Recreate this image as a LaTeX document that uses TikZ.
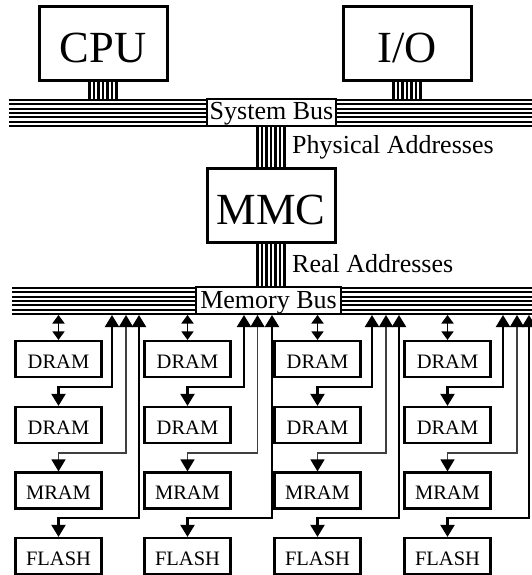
\documentclass[tikz,border=0pt]{standalone}
\usepackage{fontspec}
\setmainfont{Liberation Serif}
\usetikzlibrary{arrows.meta}
\begin{document}
\begin{tikzpicture}[x=1pt,y=-1pt,
 bigbox/.style={draw, line width=3pt, minimum width=128pt, minimum height=74pt, inner sep=0pt, font=\fontsize{44.5}{50}\selectfont, text height=38pt, text depth=0pt},
 membox/.style={draw, line width=2.2pt, minimum width=86pt, minimum height=36pt, inner sep=0pt, font=\fontsize{20.5}{24}\selectfont, text height=18pt, text depth=0pt},
 buslabel/.style={draw, fill=white, line width=1.6pt, minimum height=27pt, inner sep=0pt, font=\fontsize{26}{30}\selectfont, text height=15pt, text depth=0pt},
 busline/.style={line width=2.2pt},
 stub/.style={line width=2.4pt},
 tip/.style={Triangle[width=14pt,length=12pt,color=black]},
 wire/.style={line width=2.1pt, {Triangle[width=14pt,length=12pt,color=black]}-{Triangle[width=14pt,length=12pt,color=black]}},
 thinwire/.style={wire, line width=1.4pt, draw=black!75},
 dblarrow/.style={line width=1.8pt, {Triangle[width=12pt,length=8.5pt]}-{Triangle[width=12pt,length=8.5pt]}},
 addr/.style={font=\fontsize{26}{30}\selectfont, inner sep=0pt, anchor=base west}
]
\useasboundingbox (0,0) rectangle (532,575);
% buses
\foreach \k in {0,...,6} {
  \draw[busline] (9,{100+4.33*\k}) -- (532,{100+4.33*\k});
  \draw[busline] (12,{288+4.33*\k}) -- (532,{288+4.33*\k});
}
\coordinate (membottom) at (0,315);
% top boxes
\node[bigbox] (cpu) at (103,44) {CPU};
\node[bigbox] (io) at (407,44) {I/O};
\node[bigbox] (mmc) at (271,205.5) {MMC};
% stubs
\foreach \d in {-13.5,-9,-4.5,0,4.5,9,13.5} {
  \draw[stub] ([xshift=\d pt]cpu.south) -- ++(0,19);
  \draw[stub] ([xshift=\d pt]io.south) -- ++(0,19);
  \draw[stub] ([xshift=\d pt]mmc.north) -- ++(0,-43);
  \draw[stub] ([xshift=\d pt]mmc.south) -- ++(0,46);
}
% bus labels
\node[buslabel, minimum width=129pt] (sysbus) at (271.5,112.5) {System Bus};
\node[buslabel, minimum width=145pt] (membus) at (268.5,300.5) {Memory Bus};
\node[addr] (pa) at (292,153) {Physical Addresses};
\node[addr] (ra) at (292,272) {Real Addresses};
% memory columns
\foreach \c/\cx/\wa/\wb/\wc in {1/58.5/112/126/139, 2/187.5/244/257.5/272, 3/317.5/372/386/399, 4/447.5/503/517/529} {
  \node[membox] (da\c) at (\cx,359) {DRAM};
  \node[membox] (db\c) at (\cx,425) {DRAM};
  \node[membox] (mr\c) at (\cx,490.5) {MRAM};
  \node[membox] (fl\c) at (\cx,556) {FLASH};
  \coordinate (ta\c) at (\wa,315);
  \coordinate (tb\c) at (\wb,315);
  \coordinate (tc\c) at (\wc,315);
  \draw[dblarrow] (da\c.north |- membottom) -- (da\c.north);
  \draw[wire] (ta\c) -- ++(0,72) -| (db\c.north);
  \draw[thinwire] (tb\c) -- ++(0,138) -| (mr\c.north);
  \draw[wire] (tc\c) -- ++(0,203) -| (fl\c.north);
}
\end{tikzpicture}
\end{document}
